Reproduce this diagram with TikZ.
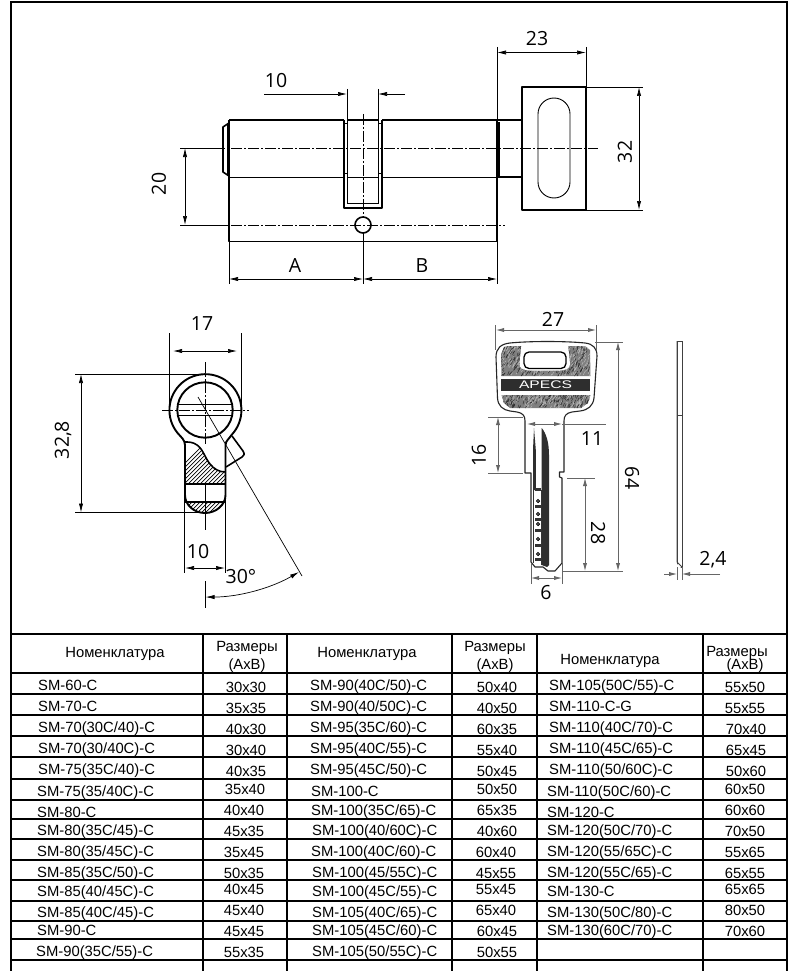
\documentclass[tikz,border=0pt]{standalone}
\usepackage{fontspec}
\setmainfont{Liberation Sans}
\newfontfamily\dimfam{Open Sans}
\usetikzlibrary{arrows.meta}
\tikzset{
 obj/.style={line width=1.6pt,black,line join=round},
 objthin/.style={line width=0.9pt,black},
 cl/.style={line width=0.55pt,black,dash pattern=on 11pt off 2pt on 2pt off 2pt},
 ext/.style={line width=0.7pt,black},
 dimline/.style={line width=0.7pt,black,{Latex[length=9pt,width=4.2pt]}-{Latex[length=9pt,width=4.2pt]}},
 onearrow/.style={line width=0.7pt,black,-{Latex[length=9pt,width=4.2pt]}},
 gext/.style={line width=0.8pt,black!60},
 gdim/.style={line width=0.8pt,black!60,{Latex[length=8pt,width=4.2pt]}-{Latex[length=8pt,width=4.2pt]}},
 gone/.style={line width=0.8pt,black!60,-{Latex[length=8pt,width=4.2pt]}},
 dimtxt/.style={font=\dimfam\fontsize{19.5}{21}\selectfont,inner sep=0pt,black},
 tab/.style={line width=1.7pt,black},
 tc/.style={font=\fontsize{14.8}{16}\selectfont,inner sep=0pt,anchor=base west,black},
 ts/.style={font=\fontsize{14.8}{16}\selectfont,inner sep=0pt,anchor=base,black},
 hatchline/.style={line width=0.7pt,black},
}
\newcommand\tl[3]{\node[tc] (tl#1-#2) at (#1,#2+5) {#3};}
\newcommand\ts[3]{\node[ts] (ts#1-#2) at (#1,#2+5) {#3};}
\begin{document}
\begin{tikzpicture}[x=1pt,y=-1pt]
\useasboundingbox (0,0) rectangle (800,971);
\fill[white] (0,0) rectangle (800,971);
% frame
\draw[tab] (11,971) -- (11,2) -- (787,2) -- (787,971);
% ---------- main view ----------
\draw[obj] (229,120) -- (344,120) (347,120) -- (378,120) (382,120) -- (497,120);
\draw[obj] (229,120) -- (229,241.5) -- (497,241.5) -- (497,120);
\draw[objthin] (229,177) -- (344,177) (382,177) -- (497,177) (347,177) -- (378,177);
\draw[obj] (344,120) -- (344,208) -- (382,208) -- (382,120);
\draw[objthin] (347,120) -- (347,203) -- (378,203) -- (378,120);
\draw[objthin] (344,123.5) -- (347,123.5) (378,123.5) -- (382,123.5) (344,173) -- (347,173) (378,173) -- (382,173);
\draw[obj] (229,123) -- (223,127) -- (223,172) -- (229,176);
\draw[objthin] (227,124) -- (227,175);
\draw[obj] (497,120) -- (522,120) (497,177) -- (522,177);
\fill[black] (497,122) rectangle (500,176);
\draw[obj] (522,87) rectangle (586,210);
\draw[objthin] (538,114) arc[start angle=180,end angle=360,radius=16] -- (570,182) arc[start angle=0,end angle=180,radius=16] -- cycle;
\draw[obj] (363,225) circle[radius=8];
\draw[cl] (180,148) -- (598,148);
\draw[cl] (180,225) -- (505,225);
\draw[cl] (363,114) -- (363,217);
% dims main
\draw[ext] (497,47) -- (497,120) (586,47) -- (586,87);
\draw[dimline] (497,52.5) -- (586,52.5);
\node[dimtxt] (d23) at (537,39) {23};
\draw[ext] (347,89) -- (347,120) (378,89) -- (378,120);
\draw[onearrow] (264,94) -- (347,94);
\draw[onearrow] (405,94) -- (378,94);
\node[dimtxt] (d10a) at (276,81) {10};
\draw[ext] (586,87) -- (643,87) (586,210) -- (643,210);
\draw[dimline] (639,87) -- (639,210);
\node[dimtxt,rotate=90] (d32) at (625,152) {32};
\draw[ext] (180,225) -- (229,225) (180,148) -- (223,148);
\draw[dimline] (185,148) -- (185,225);
\node[dimtxt,rotate=90] (d20) at (159,184) {20};
\draw[ext] (229,241) -- (229,284) (497,241) -- (497,284) (363,233) -- (363,284);
\draw[dimline] (229,279) -- (363,279);
\draw[dimline] (363,279) -- (497,279);
\node[dimtxt] (dA) at (295,266) {A};
\node[dimtxt] (dB) at (422,266) {B};
% ---------- end view ----------
\begin{scope}
\clip (185,442) .. controls (189,442) and (193,442) .. (197,445) .. controls (203,449) and (205,458) .. (210,464) .. controls (214,469) and (219,472) .. (225.5,472) -- (225.5,484) -- (185,484) -- cycle;
\foreach \k in {0,4,...,120} \draw[hatchline] (160+\k,488) -- (160+\k+55,433);
\end{scope}
\begin{scope}
\clip (185,502) rectangle (226,514);
\clip (225.5,495) .. controls (225.5,505) and (216,513) .. (205,513) .. controls (194,513) and (185,505) .. (185,495) -- cycle;
\foreach \k in {0,4,...,80} \draw[hatchline] (170+\k,516) -- (170+\k+20,496);
\end{scope}
\draw[obj,line width=1.9pt] (178,433.5) arc[start angle=139.6,end angle=403,radius=36] .. controls (229,439) and (225.5,441) .. (225.5,445) -- (225.5,495) .. controls (225.5,505) and (216,513) .. (205,513) .. controls (194,513) and (185,505) .. (185,495) -- (185,445) .. controls (185,440) and (181,437) .. (178,433.5) -- cycle;
\draw[obj,line width=1.9pt] (205,410) circle[radius=27.7];
\draw[obj,line width=1.9pt] (178,404.5) -- (232.5,404.5) (178,415.5) -- (232.5,415.5);
\draw[obj] (232,436) -- (243,451) .. controls (245,454) and (244,456) .. (242,457) -- (226,467);
\draw[obj] (185,442) .. controls (189,442) and (193,442) .. (197,445) .. controls (203,449) and (205,458) .. (210,464) .. controls (214,469) and (219,472) .. (225.5,472);
\draw[obj,line width=2pt] (185,484) -- (225.5,484);
\draw[obj,line width=2pt] (185,502) -- (225.5,502);
\draw[cl] (162,410) -- (249,410);
\draw[cl] (205,362) -- (205,382);
\draw[cl] (205,382) -- (205,445);
\draw[ext] (205,484) -- (205,530);
\draw[ext] (198,397) -- (302,576);
% dims end
\draw[ext] (169,333) -- (169,410) (241,333) -- (241,410);
\draw[dimline] (173,351) -- (237,351);
\node[dimtxt] (d17) at (202,324) {17};
\draw[ext] (75,374) -- (205,374) (75,512.5) -- (205,512.5);
\draw[dimline] (81,374) -- (81,512.5);
\node[dimtxt,rotate=90] (d328) at (63,440) {32,8};
\draw[ext] (184.5,497) -- (184.5,573) (225.5,497) -- (225.5,573);
\draw[dimline] (185,568) -- (225,568);
\node[dimtxt] (d10b) at (198,552) {10};
\draw[ext] (205,581) -- (205,608);
\draw[dimline] (299,572) arc[start angle=60,end angle=90,radius=187];
\node[dimtxt] (d30) at (241,577) {30°};
% ---------- key ----------
\begin{scope}
\clip (501,355) -- (504,347) -- (508,346) -- (585,346) -- (590,350) -- (590.5,376) -- (501.5,376) -- cycle;
\fill[black!50] (495,340) rectangle (600,380);
\pgfmathsetseed{11}
\foreach \i in {1,...,520}{
 \pgfmathsetmacro\xa{500+rnd*92}\pgfmathsetmacro\ya{345+rnd*32}
 \pgfmathsetmacro\cc{rnd>0.5?25:85}
 \draw[line width=0.4pt,black!\cc] (\xa,\ya) -- ++(0.8+rnd*1.5,-2-rnd*2);
}
\end{scope}
\begin{scope}
\clip (501.5,395) -- (590.5,395) -- (588,403) -- (581,408) -- (510,408) -- (504,403) -- cycle;
\fill[black!50] (495,390) rectangle (600,412);
\foreach \i in {1,...,320}{
 \pgfmathsetmacro\xa{500+rnd*92}\pgfmathsetmacro\ya{394+rnd*15}
 \pgfmathsetmacro\cc{rnd>0.5?25:85}
 \draw[line width=0.4pt,black!\cc] (\xa,\ya) -- ++(0.8+rnd*1.5,-2-rnd*2);
}
\end{scope}
\fill[white] (521.5,344) -- (568,344) -- (570,364) .. controls (570,369) and (565,370) .. (560,370.5) -- (530,370.5) .. controls (524,370) and (519.5,369) .. (519.5,364) -- cycle;
\draw[line width=1.3pt,black,rounded corners=5pt] (524,352) rectangle (566,368.5);
\fill[black!82] (501,378.5) rectangle (590,391);
\node[inner sep=0pt,text=white,font=\fontsize{11}{12}\selectfont,xscale=1.42] (apecs) at (545.5,385) {APECS};
\draw[line width=1.1pt,black!85,line join=round]
 (496,357) .. controls (496,348) and (501,344) .. (510,343)
 .. controls (530,341) and (565,341) .. (585,343)
 .. controls (593,344) and (597,348) .. (597,356)
 -- (594,398) .. controls (593,406) and (588,410) .. (580,411)
 -- (572,412) .. controls (566,413) and (564,416) .. (564,421)
 -- (564,472) -- (559.5,472) -- (559.5,477) -- (562,478) -- (562,563)
 -- (555,571) -- (548,571) -- (543,567) -- (535,567) -- (531,562)
 -- (531,473) -- (525,473) -- (525,421) .. controls (525,416) and (523,413) .. (517,412)
 -- (510,411) .. controls (503,410) and (498,406) .. (497.5,398) -- cycle;
% blade
\fill[black!82] (541.7,428) .. controls (546,433) and (549,442) .. (549,455) -- (549,565) -- (547,567) -- (541.7,565) -- cycle;
\fill[black!82] (534,428) -- (535.8,450) -- (535.8,490) -- (533,490) -- (533,450) -- cycle;
\draw[line width=1.1pt,black!80] (533.5,490) -- (533.5,563);
\draw[line width=0.7pt,black!80] (541,490) -- (541,565);
\foreach \yy in {490,507,520,531,546,560}
 \fill[black!80] (535,\yy-2) rectangle (541,\yy+0.5);
\foreach \yy in {501,514,524,539,554}
 \draw[line width=0.9pt,black,fill=white] (538,\yy) circle[radius=1.6];
% side view
\draw[line width=1pt,black!75] (677,341) rectangle (682,567);
\fill[white] (676,563) -- (676.4,568.5) -- (681.5,568.5) -- cycle;
\draw[line width=1pt,black!75] (677,341) -- (677,562) -- (682,567);
\draw[line width=0.8pt,black!75] (677,415) -- (682,415);
% dims key
\draw[gext] (495,325) -- (495,350) (596,325) -- (596,350);
\draw[gdim] (496,330) -- (596,330);
\node[dimtxt] (d27) at (553,319) {27};
\draw[gext] (595,342) -- (623,342) (563,571) -- (623,571);
\draw[gdim] (618,342) -- (618,571);
\node[dimtxt,rotate=-90] (d64) at (632,478) {64};
\draw[gext] (567,478) -- (595,478);
\draw[gdim] (585,478) -- (585,571);
\node[dimtxt,rotate=-90] (d28) at (598,533) {28};
\draw[gext] (488,417) -- (523,417) (488,473) -- (523,473);
\draw[gdim] (498,417) -- (498,473);
\node[dimtxt,rotate=90] (d16) at (479,455) {16};
\draw[gdim] (527,424) -- (562,424);
\draw[gext] (562,424) -- (606,424);
\node[dimtxt] (d11) at (592,439) {11};
\draw[gext] (531,563) -- (531,584) (562,563) -- (562,584);
\draw[gdim] (531,578) -- (562,578);
\node[dimtxt] (d6) at (546,593) {6};
\draw[gext] (677,567) -- (677,580) (682,567) -- (682,580);
\draw[gone] (664,574) -- (677,574);
\draw[gone] (720,574) -- (682,574);
\node[dimtxt] (d24) at (713,560) {2,4};
% ---------- table ----------
\foreach \yy in {634,673,694,715,736,757,779,800,819,839,860,880,901,921,939,960}
 \draw[tab] (11,\yy) -- (787,\yy);
\foreach \xx in {203,287,452,537,703}
 \draw[tab] (\xx,634) -- (\xx,971);
% headers
\node[ts] (h1) at (115,657) {Номенклатура};
\node[ts] (h2) at (247,651) {Размеры};
\node[ts] (h3) at (247,669) {(AxB)};
\node[ts] (h4) at (367,657) {Номенклатура};
\node[ts] (h5) at (495,651) {Размеры};
\node[ts] (h6) at (495,669) {(AxB)};
\node[ts] (h7) at (610,664) {Номенклатура};
\node[ts] (h8) at (737,656) {Размеры};
\node[ts] (h9) at (745,669) {(AxB)};
% col 1
\tl{38}{685}{SM-60-C}\tl{38}{706}{SM-70-C}\tl{38}{727}{SM-70(30C/40)-C}\tl{38}{748}{SM-70(30/40C)-C}
\tl{38}{769}{SM-75(35C/40)-C}\tl{37}{791}{SM-75(35/40C)-C}\tl{37}{812}{SM-80-C}\tl{37}{830}{SM-80(35C/45)-C}
\tl{37}{851}{SM-80(35/45C)-C}\tl{37}{872}{SM-85(35C/50)-C}\tl{37}{891}{SM-85(40/45C)-C}\tl{37}{912}{SM-85(40C/45)-C}
\tl{37}{930}{SM-90-C}\tl{36}{951}{SM-90(35C/55)-C}
\ts{246}{687}{30x30}\ts{246}{708}{35x35}\ts{246}{729}{40x30}\ts{246}{750}{30x40}\ts{246}{771}{40x35}
\ts{245}{789}{35x40}\ts{244}{810}{40x40}\ts{244}{831}{45x35}\ts{244}{852}{35x45}\ts{244}{873}{50x35}
\ts{244}{889}{40x45}\ts{244}{910}{45x40}\ts{244}{931}{45x45}\ts{244}{952}{55x35}
% col 2
\tl{310}{685}{SM-90(40C/50)-C}\tl{310}{706}{SM-90(40/50C)-C}\tl{310}{727}{SM-95(35C/60)-C}\tl{310}{748}{SM-95(40C/55)-C}
\tl{310}{769}{SM-95(45C/50)-C}\tl{311}{791}{SM-100-C}\tl{311}{810}{SM-100(35C/65)-C}\tl{312}{830}{SM-100(40/60C)-C}
\tl{311}{851}{SM-100(40C/60)-C}\tl{312}{872}{SM-100(45/55C)-C}\tl{312}{891}{SM-100(45C/55)-C}\tl{312}{912}{SM-105(40C/65)-C}
\tl{312}{930}{SM-105(45C/60)-C}\tl{312}{951}{SM-105(50/55C)-C}
\ts{497}{687}{50x40}\ts{497}{708}{40x50}\ts{497}{729}{60x35}\ts{497}{750}{55x40}\ts{497}{771}{50x45}
\ts{497}{789}{50x50}\ts{497}{810}{65x35}\ts{497}{831}{40x60}\ts{496}{852}{60x40}\ts{496}{873}{45x55}
\ts{496}{889}{55x45}\ts{496}{910}{65x40}\ts{497}{931}{60x45}\ts{497}{952}{50x55}
% col 3
\tl{549}{685}{SM-105(50C/55)-C}\tl{549}{706}{SM-110-C-G}\tl{549}{727}{SM-110(40C/70)-C}\tl{549}{748}{SM-110(45C/65)-C}
\tl{549}{769}{SM-110(50/60C)-C}\tl{547}{791}{SM-110(50C/60)-C}\tl{547}{812}{SM-120-C}\tl{547}{830}{SM-120(50C/70)-C}
\tl{547}{851}{SM-120(55/65C)-C}\tl{547}{872}{SM-120(55C/65)-C}\tl{547}{891}{SM-130-C}\tl{547}{912}{SM-130(50C/80)-C}
\tl{547}{930}{SM-130(60C/70)-C}
\ts{745}{687}{55x50}\ts{745}{708}{55x55}\ts{746}{729}{70x40}\ts{746}{750}{65x45}\ts{746}{771}{50x60}
\ts{745}{789}{60x50}\ts{745}{810}{60x60}\ts{745}{831}{70x50}\ts{745}{852}{55x65}\ts{745}{873}{65x55}
\ts{745}{889}{65x65}\ts{745}{910}{80x50}\ts{745}{931}{70x60}
\end{tikzpicture}
\end{document}
